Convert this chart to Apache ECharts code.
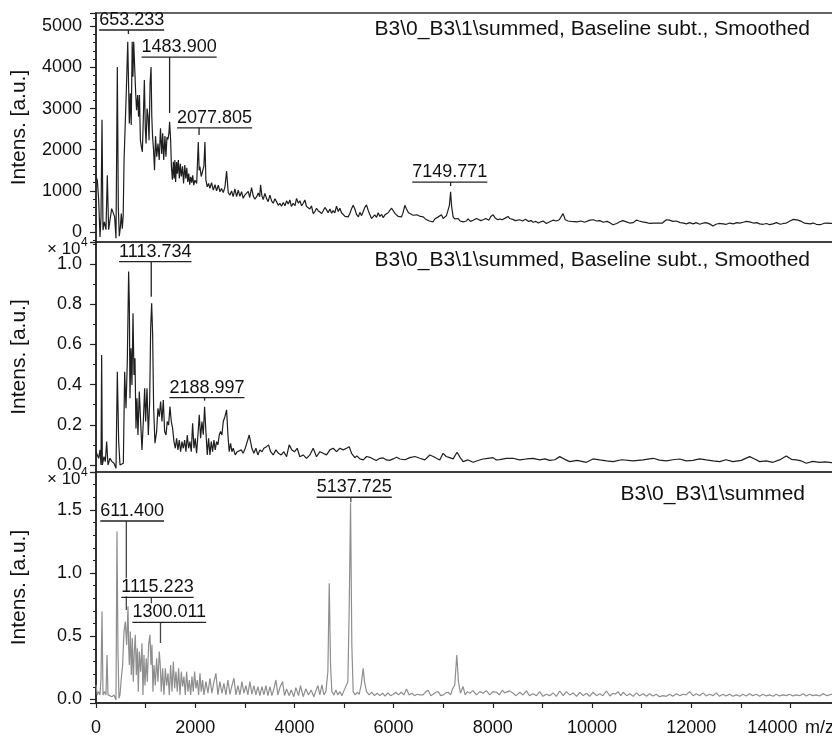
<!DOCTYPE html>
<html><head><meta charset="utf-8">
<script src="https://cdn.jsdelivr.net/npm/echarts@6/dist/echarts.min.js"></script>
<style>html,body{margin:0;padding:0;background:#fff}#c{width:832px;height:736px}</style>
</head><body><div id="c"></div>
<script>
// ---------- DATA ----------
const panelTitles = ['B3\\0_B3\\1\\summed, Baseline subt., Smoothed', 'B3\\0_B3\\1\\summed, Baseline subt., Smoothed', 'B3\\0_B3\\1\\summed'];
const yAxisName = 'Intens. [a.u.]';
const xAxisName = 'm/z';

// [m/z, intensity] – smoothed spectrum (top)
const topSpectrum = [[0,1340],[27,1260],[54,780],[81,-120],[101,370],[121,2730],[141,50],[168,250],[201,60],[228,1380],[255,60],[282,290],[316,570],[349,610],[376,370],[403,-150],[430,4010],[450,600],[470,-100],[490,100],[510,450],[530,80],[548,400],[566,1750],[590,2640],[612,3450],[640,4620],[658,4620],[672,2640],[692,3370],[710,2600],[730,4620],[745,3770],[760,4620],[780,4620],[800,3370],[818,2960],[840,3330],[858,2800],[876,3330],[895,2230],[915,2070],[935,1950],[955,2800],[975,3690],[995,2500],[1010,2150],[1030,3000],[1050,2800],[1070,2230],[1090,3600],[1110,4010],[1125,2800],[1140,2330],[1160,2000],[1180,1500],[1200,2330],[1225,1830],[1250,2150],[1275,1750],[1300,2520],[1325,1900],[1345,2400],[1365,1750],[1390,2330],[1410,1830],[1430,2300],[1450,2250],[1470,2400],[1484,2680],[1505,2230],[1520,1600],[1540,1270],[1560,1710],[1575,1300],[1590,1750],[1605,1220],[1625,1700],[1640,1420],[1660,1750],[1680,1300],[1700,1660],[1720,1350],[1745,1600],[1765,1180],[1790,1630],[1810,1300],[1830,1560],[1850,1220],[1870,1420],[1890,1150],[1910,1340],[1930,1200],[1950,1380],[1970,1140],[1995,1260],[2030,1180],[2062,2190],[2080,1500],[2095,1590],[2122,1350],[2150,1340],[2175,1600],[2196,2190],[2216,1260],[2243,1100],[2270,1180],[2297,1060],[2330,1200],[2364,1020],[2400,1150],[2431,1000],[2465,1140],[2499,980],[2530,1060],[2566,960],[2600,1100],[2633,1480],[2666,960],[2700,900],[2733,1000],[2766,860],[2800,1050],[2835,860],[2868,1020],[2901,870],[2935,980],[2968,820],[3000,900],[3036,860],[3069,990],[3100,840],[3136,1080],[3170,880],[3203,800],[3240,860],[3271,950],[3300,860],[3318,1150],[3345,880],[3371,790],[3405,940],[3438,820],[3470,740],[3506,900],[3540,760],[3573,700],[3607,810],[3640,740],[3675,650],[3707,700],[3740,630],[3775,720],[3810,640],[3842,760],[3875,680],[3909,780],[3940,620],[3976,700],[4010,640],[4043,820],[4080,700],[4110,760],[4145,640],[4178,700],[4211,780],[4245,620],[4280,660],[4312,560],[4345,640],[4379,450],[4413,500],[4446,580],[4480,520],[4513,560],[4550,450],[4581,520],[4615,600],[4648,540],[4680,470],[4715,560],[4750,460],[4782,520],[4815,470],[4849,630],[4884,500],[4917,580],[4950,470],[4984,450],[5020,380],[5051,420],[5084,370],[5118,450],[5150,560],[5185,650],[5219,560],[5252,430],[5290,370],[5320,480],[5355,400],[5387,500],[5420,600],[5454,660],[5490,520],[5521,430],[5554,330],[5588,370],[5620,420],[5656,360],[5690,470],[5723,380],[5760,430],[5790,350],[5825,420],[5857,380],[5890,470],[5924,530],[5960,580],[5991,600],[6030,450],[6059,420],[6093,380],[6126,370],[6159,370],[6193,480],[6226,650],[6260,560],[6300,470],[6340,430],[6394,410],[6430,380],[6470,420],[6520,390],[6560,350],[6596,370],[6640,320],[6680,300],[6720,270],[6760,260],[6797,250],[6830,320],[6864,310],[6900,370],[6931,370],[6965,420],[6999,330],[7032,360],[7066,400],[7100,420],[7125,650],[7149,980],[7170,620],[7200,370],[7233,320],[7270,300],[7301,330],[7340,270],[7402,250],[7440,280],[7469,270],[7500,320],[7550,260],[7603,290],[7640,310],[7670,330],[7710,290],[7760,280],[7805,300],[7860,330],[7920,290],[7960,380],[8007,420],[8050,340],[8100,300],[8141,320],[8190,300],[8250,340],[8308,380],[8342,330],[8400,310],[8460,280],[8544,300],[8600,270],[8660,310],[8720,260],[8770,280],[8812,240],[8870,260],[8920,220],[8970,250],[9014,270],[9081,210],[9150,250],[9215,290],[9280,270],[9340,300],[9380,330],[9417,450],[9460,300],[9520,270],[9580,260],[9618,280],[9700,250],[9780,270],[9850,240],[9887,260],[9960,290],[10030,300],[10090,270],[10156,280],[10230,240],[10300,260],[10360,230],[10424,180],[10500,210],[10560,250],[10620,280],[10693,250],[10760,220],[10830,230],[10894,290],[10950,270],[11020,250],[11100,230],[11163,210],[11250,220],[11330,220],[11420,220],[11499,300],[11560,290],[11630,260],[11700,270],[11780,230],[11850,220],[11902,200],[11970,230],[12040,200],[12100,230],[12171,190],[12240,220],[12300,230],[12370,200],[12439,150],[12500,190],[12560,210],[12640,200],[12708,190],[12780,220],[12850,200],[12920,230],[12977,220],[13050,240],[13110,260],[13178,250],[13250,220],[13320,230],[13380,200],[13450,190],[13520,210],[13580,180],[13648,200],[13720,230],[13800,190],[13860,210],[13917,220],[13990,270],[14060,310],[14152,290],[14220,260],[14280,220],[14320,250],[14400,200],[14460,220],[14522,190],[14600,180],[14700,220],[14830,210],[14950,200]];

// [m/z, intensity] – smoothed spectrum (middle)
const midSpectrum = [[0,663],[27,497],[54,332],[81,746],[101,0],[114,5470],[128,0],[161,415],[188,166],[215,1161],[242,0],[282,332],[322,166],[363,83],[403,-166],[430,4640],[457,1160],[484,0],[524,0],[551,83],[578,4640],[605,2820],[631,5140],[658,9620],[672,8120],[685,3320],[705,5800],[725,3980],[746,7540],[766,4480],[786,5310],[806,1820],[826,3320],[846,1490],[873,3650],[900,2160],[927,750],[954,2160],[981,3810],[1001,2160],[1028,3810],[1055,1490],[1082,3150],[1102,6800],[1122,8040],[1142,6470],[1162,2820],[1189,1080],[1222,1660],[1249,2820],[1276,2400],[1303,3150],[1330,2160],[1357,3230],[1384,1660],[1411,1490],[1437,2160],[1464,1990],[1491,2900],[1518,2160],[1545,1820],[1572,1160],[1599,830],[1625,1330],[1652,750],[1679,1240],[1706,660],[1733,1160],[1760,830],[1787,1240],[1813,660],[1840,1490],[1867,830],[1894,1160],[1921,660],[1948,2070],[1975,830],[2001,1330],[2028,580],[2055,1490],[2082,2490],[2109,1330],[2136,2160],[2163,1500],[2189,2900],[2216,1660],[2243,500],[2270,1330],[2297,500],[2324,1160],[2351,660],[2378,1240],[2404,750],[2431,1160],[2458,1000],[2485,1490],[2512,1660],[2539,1490],[2566,2160],[2599,2400],[2633,2740],[2660,1490],[2686,660],[2713,1080],[2740,660],[2767,830],[2807,500],[2848,660],[2888,580],[2928,750],[2968,580],[3009,830],[3049,1160],[3089,1490],[3116,1490],[3143,830],[3183,580],[3224,830],[3264,500],[3304,750],[3345,660],[3385,830],[3438,910],[3479,1000],[3519,660],[3573,500],[3627,750],[3680,580],[3734,500],[3788,660],[3842,410],[3895,1000],[3949,750],[4003,660],[4056,830],[4110,410],[4177,500],[4245,330],[4312,500],[4379,830],[4446,410],[4513,660],[4580,580],[4648,500],[4715,750],[4782,830],[4849,660],[4917,830],[4984,750],[5051,830],[5105,910],[5152,580],[5219,360],[5260,450],[5320,300],[5390,250],[5454,420],[5520,380],[5588,300],[5650,220],[5723,330],[5790,350],[5857,250],[5920,230],[5991,300],[6060,380],[6126,298],[6230,260],[6327,365],[6430,420],[6529,332],[6630,250],[6730,497],[6800,420],[6864,332],[6930,250],[6998,580],[7060,420],[7132,365],[7200,300],[7280,630],[7340,380],[7401,166],[7500,250],[7603,133],[7700,220],[7804,298],[7900,330],[8006,365],[8070,250],[8140,265],[8270,330],[8409,332],[8540,250],[8678,298],[8810,330],[8947,249],[9050,300],[9148,232],[9250,260],[9350,415],[9450,280],[9551,166],[9700,230],[9887,133],[10020,300],[10155,249],[10290,200],[10424,166],[10600,260],[10827,199],[11030,250],[11230,332],[11360,240],[11499,199],[11630,260],[11768,298],[11900,200],[12036,232],[12170,300],[12305,249],[12440,200],[12574,166],[12700,260],[12842,166],[13010,230],[13178,415],[13280,300],[13380,166],[13510,200],[13648,133],[13780,250],[13917,448],[14020,280],[14118,249],[14220,200],[14320,83],[14450,180],[14589,133],[14700,150],[14830,116],[14950,120]];

// [m/z, intensity] – raw summed spectrum (bottom)
const botSpectrum = [[0,1150],[27,360],[54,620],[81,360],[101,1680],[121,6960],[141,360],[168,620],[201,360],[222,3520],[242,360],[282,410],[322,220],[363,360],[403,-40],[423,13290],[443,3790],[463,90],[484,360],[510,1680],[537,2730],[564,5370],[591,6160],[618,4320],[645,7350],[660,4000],[672,2730],[692,5370],[712,1940],[732,4840],[752,1410],[772,3790],[793,5110],[813,1940],[833,4050],[853,620],[873,3790],[900,2200],[927,4450],[947,360],[967,3520],[987,1100],[1014,3260],[1034,1410],[1061,4320],[1088,5110],[1108,2730],[1128,4320],[1148,620],[1169,2730],[1196,1100],[1222,3260],[1249,1410],[1276,3790],[1296,2730],[1316,620],[1343,2470],[1370,360],[1397,2470],[1424,1100],[1451,2070],[1478,360],[1505,2730],[1532,620],[1559,3000],[1585,880],[1612,2200],[1639,620],[1666,2470],[1693,360],[1720,2200],[1746,1020],[1773,1810],[1800,360],[1827,2200],[1854,620],[1881,1540],[1908,360],[1935,1810],[1961,620],[1988,2200],[2015,880],[2042,1540],[2069,360],[2096,2070],[2122,620],[2149,1540],[2176,360],[2216,1410],[2257,490],[2297,1680],[2337,490],[2378,1410],[2418,2070],[2458,360],[2498,1410],[2539,490],[2579,1280],[2619,360],[2660,1540],[2700,410],[2740,1100],[2781,1680],[2821,360],[2861,1100],[2901,360],[2942,1410],[2982,490],[3022,1100],[3062,360],[3103,1410],[3143,410],[3183,1100],[3224,360],[3264,1020],[3304,300],[3345,1020],[3385,360],[3425,1100],[3466,300],[3506,1020],[3546,300],[3586,840],[3627,1540],[3667,360],[3707,940],[3761,1410],[3801,300],[3842,840],[3895,300],[3936,750],[3989,220],[4029,940],[4083,300],[4123,1100],[4177,220],[4231,840],[4284,360],[4338,750],[4392,220],[4433,680],[4473,1100],[4514,360],[4554,1150],[4594,360],[4635,620],[4675,2200],[4702,9200],[4729,2730],[4755,620],[4796,360],[4836,750],[4876,360],[4917,620],[4957,300],[4997,680],[5037,620],[5078,1410],[5105,7220],[5132,15540],[5158,4320],[5185,620],[5226,360],[5266,570],[5306,410],[5346,1150],[5387,2470],[5413,1410],[5454,620],[5508,360],[5561,570],[5615,300],[5669,490],[5723,300],[5776,490],[5830,260],[5884,520],[5937,300],[5991,410],[6045,570],[6099,360],[6152,570],[6206,360],[6260,830],[6314,360],[6367,490],[6421,300],[6475,410],[6529,360],[6596,360],[6650,620],[6697,730],[6750,300],[6797,410],[6850,570],[6898,620],[6950,300],[6999,360],[7050,520],[7099,570],[7150,360],[7187,830],[7233,1150],[7274,3520],[7307,1410],[7348,490],[7401,1020],[7442,360],[7490,620],[7536,490],[7600,700],[7670,360],[7740,620],[7805,490],[7870,700],[7939,360],[8000,620],[8073,570],[8130,360],[8194,730],[8240,520],[8275,410],[8340,680],[8409,490],[8470,300],[8544,570],[8610,360],[8678,680],[8740,300],[8812,460],[8880,300],[8947,620],[9010,250],[9081,410],[9150,300],[9215,520],[9280,250],[9350,670],[9420,300],[9484,620],[9550,360],[9618,520],[9690,250],[9753,570],[9820,300],[9887,490],[9950,250],[10021,570],[10090,300],[10156,460],[10220,300],[10290,670],[10360,280],[10424,490],[10470,410],[10525,620],[10580,300],[10626,570],[10700,300],[10760,460],[10830,250],[10894,520],[10960,300],[11029,460],[11100,250],[11163,460],[11230,270],[11297,410],[11360,220],[11432,300],[11500,250],[11566,410],[11630,250],[11700,460],[11770,300],[11835,410],[11900,360],[11969,620],[12040,300],[12103,460],[12170,300],[12238,520],[12300,280],[12372,410],[12440,300],[12506,520],[12570,250],[12641,410],[12700,280],[12775,410],[12840,250],[12909,360],[12980,250],[13044,410],[13110,280],[13178,460],[13240,300],[13312,410],[13380,250],[13447,410],[13510,280],[13581,360],[13650,250],[13715,410],[13780,280],[13850,360],[13920,300],[13984,410],[14050,280],[14118,360],[14190,300],[14253,460],[14320,280],[14387,410],[14450,300],[14522,360],[14590,280],[14656,460],[14740,300],[14830,410],[14950,350]];

// labelled peaks (m/z)
const topPeaks = [653.233, 1483.900, 2077.805, 7149.771];
const midPeaks = [1113.734, 2188.997];
const botPeaks = [611.400, 1115.223, 1300.011, 5137.725];

// ---------- LAYOUT ----------
// annotation placement in data units: u = underline level, e = end of marker line, c = label centre (m/z)
const topAnnLayout = [{u:4907,e:4810,c:719},{u:4250,e:2891,c:1676},{u:2533,e:2357,c:2391},{u:1216,e:1119,c:7133}];
const midAnnLayout = [{u:10110,e:8369,c:1195},{u:3346,e:3197,c:2237}];
const botAnnLayout = [{u:14122,e:7080,c:729},{u:8084,e:6921,c:1239},{u:6106,e:4468,c:1477},{u:16000,e:15600,c:5205}];

const FONT = '"Liberation Sans", Arial, sans-serif';
const mctx = document.createElement('canvas').getContext('2d');
mctx.font = '18px ' + FONT;
const measure = s => mctx.measureText(s).width;

function annSeries(idx, peaks, layout, lineColor, bg) {
  return {
    type: 'custom', coordinateSystem: 'cartesian2d', xAxisIndex: idx, yAxisIndex: idx,
    silent: true, z: 10, clip: false,
    data: peaks.map((p, i) => [p, layout[i].u, layout[i].e, layout[i].c]),
    renderItem: function (params, api) {
      const mz = api.value(0), u = api.value(1), e = api.value(2), c = api.value(3);
      const a = api.coord([mz, u]), b = api.coord([mz, e]), t = api.coord([c, u]);
      const label = mz.toFixed(3);
      const w = measure(label);
      const textStyle = { text: label, x: t[0], y: a[1] - 1, align: 'center', verticalAlign: 'bottom',
        font: '18px ' + FONT, fill: '#111' };
      if (bg) { textStyle.backgroundColor = '#fff'; }
      return { type: 'group', children: [
        { type: 'line', shape: { x1: a[0], y1: a[1], x2: b[0], y2: b[1] }, style: { stroke: lineColor, lineWidth: 1.3 } },
        { type: 'text', style: textStyle },
        { type: 'line', shape: { x1: t[0] - w / 2, y1: a[1], x2: t[0] + w / 2, y2: a[1] }, style: { stroke: '#222', lineWidth: 1.3 } }
      ]};
    }
  };
}

const grids = [
  { left: 96, top: 13, width: 744, height: 229 },
  { left: 96, top: 242, width: 744, height: 230 },
  { left: 96, top: 472, width: 744, height: 231 }
].map(g => Object.assign(g, { show: true, borderColor: '#333', borderWidth: 1.5, backgroundColor: 'transparent', containLabel: false, outerBoundsMode: 'none' }));

function xAx(i, showLabels) {
  return {
    type: 'value', gridIndex: i, min: 0, max: 15000, interval: 1000,
    axisLine: { show: showLabels, onZero: false, lineStyle: { color: '#222', width: 1.5 } },
    axisTick: { show: showLabels, length: 5, lineStyle: { color: '#222', width: 1.2 } },
    axisLabel: { show: showLabels, fontSize: 18, color: '#111', fontFamily: FONT, margin: 16,
      formatter: v => (v === 14000 ? '{last|' + v + '}' : (v % 2000 === 0 && v < 15000 ? String(v) : '')),
      rich: { last: { fontSize: 18, color: '#111', fontFamily: FONT, padding: [0, 36, 0, 0] } } },
    splitLine: { show: false }
  };
}
function yAx(i, min, max, splitNumber, minorSplit, step, fmt) {
  return {
    type: 'value', gridIndex: i, min, max, splitNumber,
    name: yAxisName, nameLocation: 'middle', nameGap: 66,
    nameTextStyle: { fontSize: 21, color: '#111', fontFamily: FONT },
    axisLine: { show: true, onZero: false, lineStyle: { color: '#222', width: 1.5 } },
    axisTick: { show: true, length: 6, lineStyle: { color: '#222', width: 1.2 } },
    minorTick: { show: true, splitNumber: minorSplit, length: 3, lineStyle: { color: '#222', width: 1 } },
    axisLabel: { fontSize: 18, color: '#111', fontFamily: FONT, margin: 14,
      formatter: v => (Math.abs(v % step) < 1e-6 ? fmt(v) : '') },
    splitLine: { show: false }, minorSplitLine: { show: false }
  };
}

const lineSeries = (i, data, color) => ({
  type: 'line', xAxisIndex: i, yAxisIndex: i, data, showSymbol: false, symbol: 'none',
  silent: true, lineStyle: { color, width: 1.2 }, z: 2
});

const titleStyle = { fontSize: 21, fontWeight: 'normal', color: '#111', fontFamily: FONT };
const chart = echarts.init(document.getElementById('c'), null, { renderer: 'canvas' });
chart.setOption({
  animation: false,
  backgroundColor: '#fff',
  textStyle: { fontFamily: FONT },
  title: [
    { text: panelTitles[0], right: 22, top: 19, padding: 0, textStyle: titleStyle },
    { text: panelTitles[1], right: 22, top: 250, padding: 0, textStyle: titleStyle },
    { text: panelTitles[2], right: 27, top: 484, padding: 0, textStyle: titleStyle }
  ],
  grid: grids,
  xAxis: [xAx(0, false), xAx(1, false), xAx(2, true)],
  yAxis: [
    yAx(0, -240, 5320, 5, 5, 1000, v => String(v)),
    yAx(1, -350, 11090, 6, 2, 2000, v => (v / 10000).toFixed(1)),
    yAx(2, -280, 18000, 4, 5, 5000, v => (v / 10000).toFixed(1))
  ],
  graphic: [
    { type: 'text', left: 47, top: 241, style: { text: '× 10', font: '17px ' + FONT, fill: '#111' } },
    { type: 'text', left: 81, top: 237, style: { text: '4', font: '12px ' + FONT, fill: '#111' } },
    { type: 'text', left: 47, top: 471, style: { text: '× 10', font: '17px ' + FONT, fill: '#111' } },
    { type: 'text', left: 81, top: 467, style: { text: '4', font: '12px ' + FONT, fill: '#111' } },
    { type: 'text', left: 805, top: 719, style: { text: xAxisName, font: '18px ' + FONT, fill: '#111' } }
  ],
  series: [
    lineSeries(0, topSpectrum, '#1e1e1e'),
    lineSeries(1, midSpectrum, '#1e1e1e'),
    lineSeries(2, botSpectrum, '#8e8e8e'),
    annSeries(0, topPeaks, topAnnLayout, '#222', false),
    annSeries(1, midPeaks, midAnnLayout, '#222', false),
    annSeries(2, botPeaks, botAnnLayout, '#444', true)
  ]
});
</script>
</body></html>
